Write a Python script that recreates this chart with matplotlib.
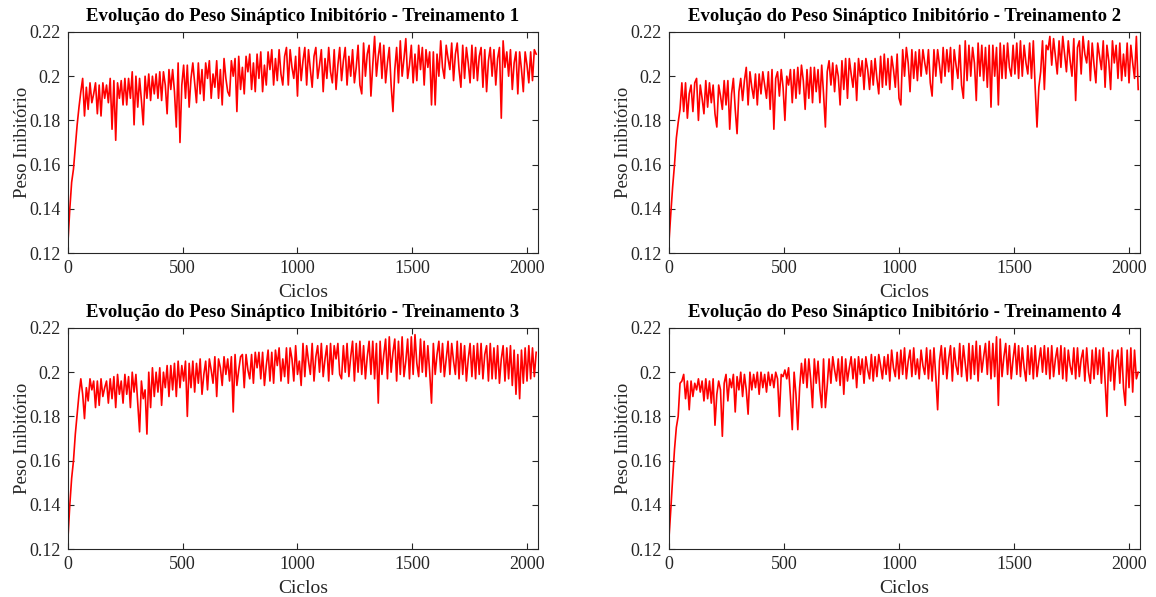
import numpy as np
import matplotlib
matplotlib.use("Agg")
import matplotlib.pyplot as plt
from matplotlib.ticker import FormatStrFormatter

# valores, em milésimos, um ponto a cada 8 ciclos
passo = 8

peso_t1 = [
    125, 140, 152, 158, 168, 178, 186, 193,
    199, 182, 195, 185, 197, 188, 192, 197,
    183, 196, 182, 197, 190, 196, 188, 199,
    176, 198, 171, 197, 190, 198, 187, 199,
    187, 199, 190, 202, 178, 200, 186, 199,
    189, 178, 200, 190, 201, 189, 200, 192,
    201, 190, 202, 189, 202, 196, 183, 203,
    194, 203, 193, 177, 206, 170, 196, 205,
    190, 205, 186, 199, 206, 197, 188, 206,
    192, 203, 189, 206, 199, 207, 190, 201,
    195, 207, 190, 203, 187, 208, 199, 193,
    191, 207, 200, 208, 184, 209, 194, 204,
    192, 209, 202, 210, 194, 206, 193, 210,
    199, 211, 193, 205, 196, 211, 203, 212,
    196, 208, 198, 212, 201, 196, 209, 213,
    196, 212, 204, 199, 209, 191, 213, 198,
    207, 213, 196, 212, 203, 195, 209, 213,
    199, 205, 212, 193, 208, 199, 213, 202,
    197, 212, 194, 205, 213, 198, 207, 213,
    196, 209, 200, 212, 197, 204, 214, 196,
    192, 215, 200, 210, 214, 191, 205, 218,
    200, 209, 215, 199, 214, 197, 206, 213,
    196, 184, 203, 213, 197, 216, 200, 208,
    217, 199, 205, 214, 197, 210, 198, 214,
    203, 213, 196, 212, 204, 211, 187, 211,
    187, 210, 200, 216, 204, 199, 214, 208,
    203, 215, 198, 210, 215, 203, 195, 214,
    199, 213, 206, 197, 214, 199, 213, 198,
    209, 213, 195, 212, 193, 207, 213, 200,
    212, 196, 208, 213, 181, 216, 204, 211,
    200, 212, 194, 206, 211, 192, 211, 203,
    193, 211, 205, 197, 211, 198, 212, 210,
]

peso_t2 = [
    125, 138, 150, 160, 172, 179, 185, 197,
    184, 197, 181, 192, 196, 184, 197, 199,
    180, 196, 190, 183, 198, 186, 197, 188,
    196, 183, 177, 196, 191, 185, 198, 187,
    198, 176, 192, 199, 185, 174, 193, 199,
    189, 198, 204, 187, 202, 195, 190, 201,
    187, 201, 192, 202, 196, 190, 202, 185,
    203, 176, 199, 202, 191, 203, 195, 180,
    200, 196, 203, 188, 203, 190, 204, 192,
    205, 198, 185, 203, 190, 204, 188, 204,
    193, 203, 188, 205, 192, 177, 202, 207,
    196, 206, 193, 205, 200, 187, 207, 194,
    208, 190, 208, 201, 195, 206, 189, 208,
    200, 207, 194, 208, 203, 194, 207, 196,
    208, 199, 192, 209, 195, 210, 196, 208,
    194, 209, 203, 195, 210, 190, 187, 212,
    200, 213, 206, 193, 212, 199, 211, 198,
    212, 200, 212, 206, 201, 212, 197, 191,
    212, 200, 212, 205, 197, 213, 200, 212,
    202, 213, 194, 212, 205, 199, 214, 196,
    190, 216, 198, 214, 200, 213, 206, 189,
    215, 200, 214, 198, 213, 195, 214, 186,
    214, 200, 213, 187, 215, 199, 214, 199,
    215, 204, 200, 214, 201, 215, 199, 216,
    200, 214, 206, 201, 215, 199, 216, 195,
    177, 195, 202, 216, 194, 214, 212, 218,
    205, 217, 209, 201, 216, 204, 218, 210,
    202, 216, 207, 200, 217, 189, 213, 216,
    201, 218, 210, 206, 216, 198, 215, 205,
    197, 215, 209, 203, 216, 195, 214, 207,
    194, 216, 206, 214, 199, 215, 198, 210,
    200, 215, 197, 214, 206, 199, 218, 194,
]

peso_t3 = [
    125, 140, 152, 160, 172, 181, 190, 197,
    190, 179, 193, 187, 197, 192, 196, 184,
    196, 185, 197, 189, 193, 196, 186, 197,
    188, 198, 184, 199, 190, 196, 186, 199,
    190, 198, 184, 200, 191, 199, 186, 173,
    196, 188, 192, 172, 200, 184, 202, 189,
    200, 191, 202, 185, 200, 193, 203, 189,
    203, 192, 204, 189, 205, 193, 203, 196,
    205, 180, 204, 193, 205, 191, 204, 195,
    206, 190, 199, 205, 192, 206, 201, 195,
    207, 189, 206, 202, 194, 207, 199, 206,
    196, 207, 182, 208, 194, 201, 207, 208,
    193, 208, 201, 197, 208, 195, 209, 202,
    209, 197, 209, 194, 203, 210, 196, 209,
    195, 210, 203, 211, 196, 206, 198, 211,
    195, 211, 206, 196, 212, 199, 205, 194,
    213, 198, 212, 205, 199, 213, 196, 207,
    212, 200, 213, 198, 206, 212, 196, 213,
    199, 212, 206, 213, 199, 197, 212, 200,
    213, 198, 207, 214, 196, 213, 200, 214,
    199, 212, 197, 207, 214, 199, 214, 197,
    213, 186, 214, 199, 208, 215, 197, 216,
    200, 209, 215, 196, 214, 199, 216, 198,
    205, 215, 197, 216, 199, 217, 204, 198,
    215, 200, 214, 198, 212, 200, 186, 213,
    199, 208, 214, 200, 213, 198, 206, 214,
    199, 213, 205, 199, 214, 197, 213, 199,
    212, 196, 206, 213, 198, 212, 197, 213,
    199, 213, 197, 208, 212, 196, 213, 197,
    211, 197, 212, 195, 206, 212, 196, 211,
    197, 212, 194, 210, 190, 208, 188, 210,
    195, 211, 196, 212, 197, 211, 198, 209,
]

peso_t4 = [
    125, 138, 152, 165, 175, 180, 195, 196,
    199, 188, 196, 183, 196, 189, 195, 192,
    197, 191, 196, 187, 197, 188, 196, 186,
    197, 176, 190, 196, 192, 171, 195, 199,
    187, 197, 193, 199, 182, 198, 192, 200,
    189, 199, 192, 181, 200, 192, 199, 193,
    200, 190, 200, 193, 199, 191, 200, 194,
    199, 193, 200, 197, 180, 199, 198, 201,
    197, 202, 189, 174, 200, 190, 174, 193,
    204, 195, 206, 193, 206, 197, 184, 206,
    195, 205, 192, 184, 206, 184, 194, 206,
    195, 207, 201, 196, 206, 194, 207, 190,
    206, 196, 202, 207, 197, 206, 193, 207,
    199, 206, 195, 207, 201, 197, 208, 196,
    207, 198, 208, 203, 197, 207, 199, 208,
    196, 210, 202, 198, 209, 197, 210, 199,
    211, 197, 205, 210, 198, 211, 199, 206,
    197, 210, 203, 199, 211, 197, 210, 196,
    211, 198, 183, 205, 212, 199, 211, 197,
    206, 212, 196, 211, 203, 199, 213, 198,
    212, 204, 196, 213, 197, 212, 199, 214,
    196, 212, 200, 207, 213, 199, 214, 197,
    213, 198, 216, 185, 215, 198, 207, 213,
    199, 212, 197, 206, 213, 199, 212, 198,
    211, 202, 196, 212, 199, 211, 197, 212,
    198, 205, 211, 200, 212, 199, 211, 197,
    212, 198, 206, 211, 199, 212, 197, 211,
    196, 210, 203, 199, 211, 197, 211, 198,
    206, 210, 196, 211, 200, 195, 210, 197,
    211, 199, 210, 195, 211, 196, 180, 209,
    196, 210, 192, 206, 210, 195, 211, 193,
    185, 210, 193, 211, 191, 210, 197, 200,
]

treinos = [peso_t1, peso_t2, peso_t3, peso_t4]
titulos = ["Evolução do Peso Sináptico Inibitório - Treinamento %d" % (i + 1) for i in range(4)]

plt.rcParams['font.family'] = ['Liberation Serif', 'DejaVu Serif']
cor_eixo = '#262626'

fig = plt.figure(figsize=(11.56, 5.97), dpi=100)
posicoes = [
    [0.0588, 0.5762, 0.4066, 0.3702],
    [0.5787, 0.5762, 0.4075, 0.3702],
    [0.0588, 0.0804, 0.4066, 0.3702],
    [0.5787, 0.0804, 0.4075, 0.3702],
]

for pos, dados, titulo in zip(posicoes, treinos, titulos):
    ax = fig.add_axes(pos)
    y = np.array(dados) / 1000.0
    x = np.arange(len(y)) * passo
    ax.plot(x, y, color='red', linewidth=1.2)
    ax.set_xlim(0, 2048)
    ax.set_ylim(0.12, 0.22)
    ax.set_xticks([0, 500, 1000, 1500, 2000])
    ax.set_yticks([0.12, 0.14, 0.16, 0.18, 0.2, 0.22])
    ax.yaxis.set_major_formatter(FormatStrFormatter('%g'))
    ax.tick_params(direction='in', top=True, right=True, length=4,
                   width=0.8, colors=cor_eixo, labelsize=13, pad=5)
    for sp in ax.spines.values():
        sp.set_color(cor_eixo)
        sp.set_linewidth(0.8)
    # título posicionado à mão (o automático desce por causa dos ticks no topo)
    ax.text(0.5, 1.068, titulo, transform=ax.transAxes, ha='center', va='center',
            fontsize=13.5, fontweight='bold')
    ax.set_xlabel("Ciclos", fontsize=14, color=cor_eixo, labelpad=5)
    ax.set_ylabel("Peso Inibitório", fontsize=13.5, color=cor_eixo, labelpad=-1)

fig.savefig("out.png", dpi=100)
